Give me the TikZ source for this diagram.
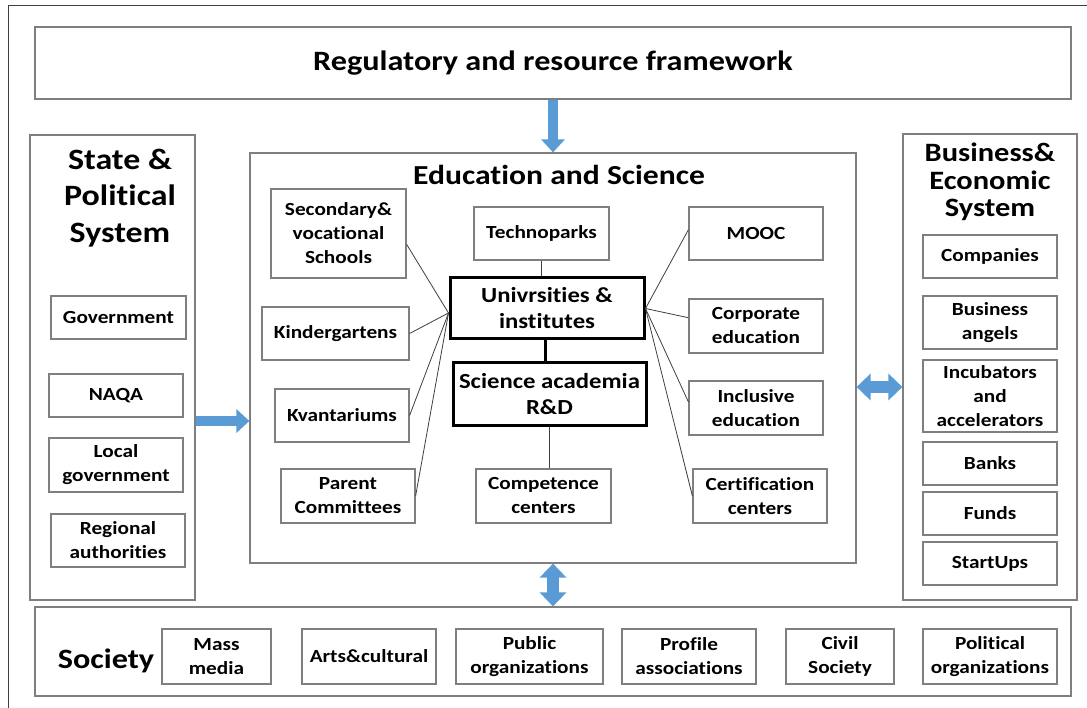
\documentclass[tikz,border=0pt]{standalone}
\usepackage{fontspec}
\setmainfont{Carlito}[FakeStretch=1.15,Ligatures={NoCommon},RawFeature={-liga;-dlig}]
\usetikzlibrary{arrows.meta,calc}
\definecolor{boxgray}{HTML}{7F7F7F}
\definecolor{arrowblue}{HTML}{5B9BD5}
\definecolor{linegray}{HTML}{3F3F3F}
\newcommand\FontBox{\fontsize{18.5}{24}\selectfont\bfseries}
\newcommand\FontKey{\fontsize{21.5}{26}\selectfont\bfseries}
\newcommand\FontReg{\fontsize{28}{32}\selectfont\bfseries}
\newcommand\FontState{\fontsize{29.5}{36.5}\selectfont\bfseries}
\newcommand\FontBus{\fontsize{26.5}{27.5}\selectfont\bfseries}
\newcommand\FontES{\fontsize{27.5}{32}\selectfont\bfseries}
\newcommand\FontSoc{\fontsize{28}{32}\selectfont\bfseries}
\begin{document}
\begin{tikzpicture}[x=1pt,y=-1pt,
  box/.style={draw=boxgray,line width=1.2pt,fill=white,inner sep=0pt,align=center,font=\FontBox},
  container/.style={draw=boxgray,line width=1.2pt,fill=white,inner sep=0pt},
  keybox/.style={draw=black,line width=3pt,fill=white,inner sep=0pt,align=center,font=\FontKey},
  titletext/.style={inner sep=0pt,align=center},
  fan/.style={draw=linegray,line width=0.8pt},
  keylink/.style={draw=black,line width=3pt},
  blockarrow/.style={draw=arrowblue,line width=10pt,-{Triangle[width=23pt,length=13pt]}},
  dblarrow/.style={draw=arrowblue,line width=12pt,{Triangle[width=26pt,length=14pt]}-{Triangle[width=26pt,length=14pt]}}
]
\useasboundingbox (0,0) rectangle (1087,708);
\fill[white] (0,0) rectangle (1087,708);
\draw[linegray,line width=1pt] (1087,6) -- (8,6) -- (8,708);

% top framework
\node[container,minimum width=1036pt,minimum height=72pt,font=\FontReg] (reg) at (553,63) {Regulatory and resource framework};

% state system
\node[container,minimum width=165pt,minimum height=465pt] (state) at (112.5,367.5) {};
\node[titletext,font=\FontState] (stateT) at (120,198) {State \&\\Political\\System};
\node[box,minimum width=135pt,minimum height=43pt] (gov) at (118.5,317.5) {Government};
\node[box,minimum width=134pt,minimum height=43pt] (naqa) at (116,395.5) {NAQA};
\node[box,minimum width=134pt,minimum height=54pt] (local) at (116,465) {Local\\government};
\node[box,minimum width=134pt,minimum height=53pt] (regauth) at (118,540.5) {Regional\\authorities};

% education and science
\node[container,minimum width=606pt,minimum height=410pt] (es) at (553,358) {};
\node[titletext,font=\FontES] (esT) at (559,175) {Education and Science};
\node[box,minimum width=135pt,minimum height=89pt] (sec) at (338.5,233.5) {Secondary\&\\vocational\\Schools};
\node[box,minimum width=135pt,minimum height=53pt] (tech) at (541.5,233.5) {Technoparks};
\node[keybox,minimum width=194pt,minimum height=61pt] (univ) at (547,308.5) {Univrsities \&\\institutes};
\node[box,minimum width=147pt,minimum height=53pt] (kinder) at (335.5,333.5) {Kindergartens};
\node[box,minimum width=134pt,minimum height=53pt] (kvant) at (342,415.5) {Kvantariums};
\node[box,minimum width=134pt,minimum height=54pt] (parent) at (348,496) {Parent\\Committees};
\node[keybox,minimum width=193pt,minimum height=62pt] (sci) at (549.5,394) {Science academia\\R\&D};
\node[box,minimum width=135pt,minimum height=54pt] (comp) at (543.5,496) {Competence\\centers};
\node[box,minimum width=134pt,minimum height=53pt] (mooc) at (756,233.5) {MOOC};
\node[box,minimum width=134pt,minimum height=54pt] (corp) at (756,326) {Corporate\\education};
\node[box,minimum width=134pt,minimum height=54pt] (incl) at (756,408) {Inclusive\\education};
\node[box,minimum width=134pt,minimum height=54pt] (cert) at (760,496) {Certification\\centers};

% business system
\node[container,minimum width=174pt,minimum height=466pt] (bus) at (990,367) {};
\node[titletext,font=\FontBus] (busT) at (990,182) {Business\&\\Economic\\System};
\node[box,minimum width=134pt,minimum height=43pt] (companies) at (990,256.5) {Companies};
\node[box,minimum width=134pt,minimum height=53pt] (angels) at (990,322.5) {Business\\angels};
\node[box,minimum width=134pt,minimum height=72pt] (incub) at (990,396) {Incubators\\and\\accelerators};
\node[box,minimum width=134pt,minimum height=43pt] (banks) at (990,463.5) {Banks};
\node[box,minimum width=134pt,minimum height=43pt] (funds) at (990,513.5) {Funds};
\node[box,minimum width=134pt,minimum height=43pt] (startups) at (990,563.5) {StartUps};

% society
\node[container,minimum width=1036pt,minimum height=89pt] (soc) at (553,651.5) {};
\node[titletext,font=\FontSoc] (socT) at (106,661) {Society};
\node[box,minimum width=109pt,minimum height=55pt] (mass) at (216.5,656.5) {Mass\\media};
\node[box,minimum width=134pt,minimum height=55pt] (arts) at (369,656.5) {Arts\&cultural};
\node[box,minimum width=147pt,minimum height=55pt] (public) at (529.5,656.5) {Public\\organizations};
\node[box,minimum width=134pt,minimum height=55pt] (profile) at (689,656.5) {Profile\\associations};
\node[box,minimum width=108pt,minimum height=55pt] (civil) at (840,656.5) {Civil\\Society};
\node[box,minimum width=134pt,minimum height=55pt] (political) at (990,656.5) {Political\\organizations};

% connectors inside education and science
\coordinate (uL) at ($(univ.north west)!0.57!(univ.south west)$);
\coordinate (uR) at (univ.east);
\draw[fan] ($(sec.north east)!0.62!(sec.south east)$) -- (uL);
\draw[fan] (kinder.east) -- (uL);
\draw[fan] (kvant.east) -- (uL);
\draw[fan] (parent.east) -- (uL);
\draw[fan] (uR) -- ($(mooc.north west)!0.43!(mooc.south west)$);
\draw[fan] (uR) -- ($(corp.north west)!0.35!(corp.south west)$);
\draw[fan] (uR) -- ($(incl.north west)!0.39!(incl.south west)$);
\draw[fan] (uR) -- (cert.west);
\draw[fan] (tech.south) -- (tech.south |- univ.north);
\draw[keylink] (univ.south -| 545,0) -- (sci.north -| 545,0);
\draw[fan] (sci.south -| 549,0) -- (comp.north -| 549,0);

% block arrows
\coordinate (rightY) at (0,421);
\coordinate (dblY) at (0,387);
\draw[blockarrow] (reg.south) -- (es.north);
\draw[blockarrow] (state.east |- rightY) -- (es.west |- rightY);
\draw[dblarrow] (es.east |- dblY) -- (bus.west |- dblY);
\draw[dblarrow] (es.south) -- (soc.north);
\end{tikzpicture}
\end{document}
